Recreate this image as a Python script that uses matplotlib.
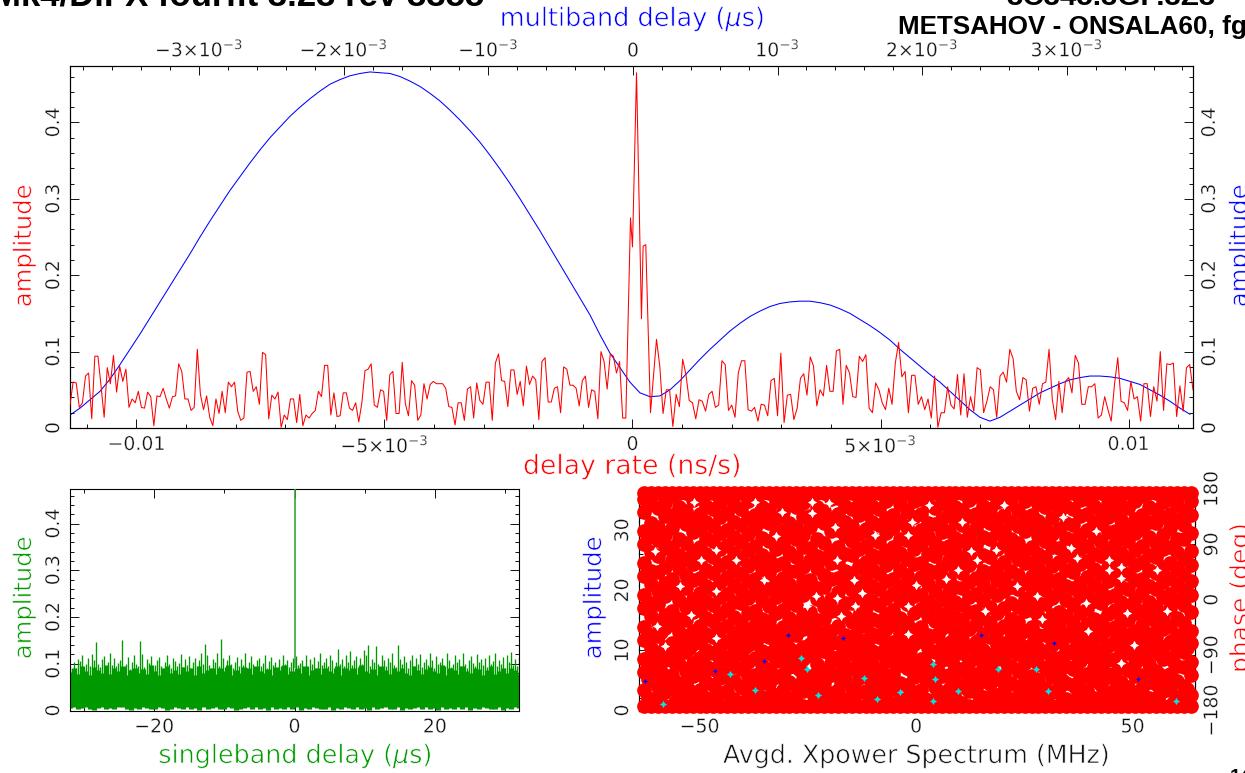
import numpy as np
import matplotlib
matplotlib.use('Agg')
import matplotlib.pyplot as plt
import matplotlib.patheffects as pe
from matplotlib.text import Text
from matplotlib.ticker import MultipleLocator

W, H = 1245, 773
plt.rcParams['font.family'] = ['DejaVu Sans']
plt.rcParams['mathtext.fontset'] = 'dejavusans'

# ---- delay rate fringe (amplitude, thousandths) left of the peak
rate_left = [30,60,59,27,33,68,72,12,94,94,55,14,79,58,95,47,81,61,77,27,38,33,48,27,26,47,41,3,42,41,52,38,26,41,42,84,74,38,38,23,27,103,44,24,42,14,3,38,19,48,20,60,54,60,22,10,13,73,74,48,54,31,99,96,12,43,38,47,1,17,11,38,38,7,44,3,17,13,19,23,48,41,82,82,17,46,15,16,46,46,26,23,33,8,33,75,77,84,30,27,50,48,10,70,74,19,19,86,32,16,62,56,10,17,
             58,38,57,61,58,58,58,52,28,27,4,33,33,10,51,54,13,59,36,31,60,60,10,85,97,62,61,28,76,76,44,61,29,81,57,68,63,11,87,92,34,34,52,54,20,80,77,56,56,52,29,62,68,27,50,48,12,100,87,51,97,94,72,87,13]
# the central peak
spike_rate = [-1.35e-4,-4e-5,0.0,8.1e-5,1.81e-4,2.14e-4,2.68e-4,3.63e-4,4.84e-4]
spike_amp = [0.013,0.275,0.237,0.465,0.143,0.238,0.24,0.02,0.116]
# right of the peak
rate_right = [81,19,50,50,2,44,28,90,70,36,33,12,37,35,22,44,48,27,30,88,83,23,30,14,72,88,88,24,22,27,9,31,30,16,62,65,16,98,7,43,44,11,26,65,71,43,93,81,29,50,42,82,48,48,101,103,31,82,72,41,40,94,87,
              96,26,20,59,50,33,24,52,31,85,112,67,74,20,69,69,31,41,24,38,13,68,1,20,20,54,30,25,70,17,71,14,41,22,79,76,20,35,54,50,14,68,73,60,103,91,48,37,66,63,22,52,54,31,58,60,103,37,11,61,20,61,66,46,95,85,31,31,54,54,58,13,17,41,24,9,57,92,35,33,23,61,38,41,9,58,58,15,54,35,100,23,84,83,85,15,55,22,79,83,50]
# ---- multiband delay curve (amplitude, thousandths)
mbd_amp = [17,26,37,48,64,83,103,123,144,165,186,207,228,250,271,291,311,329,347,364,380,394,408,420,431,441,450,456,461,464,466,465,464,460,454,447,438,428,416,403,389,374,357,339,320,300,279,258,236,214,192,170,148,122,98,79,60,46,41,42,50,62,76,90,103,115,127,137,146,153,159,163,165,166,166,164,161,156,150,142,134,125,115,103,92,81,70,60,48,36,24,14,9,14,22,30,38,46,52,58,63,66,68,68,67,65,61,57,50,43,35,26,18]
# ---- singleband delay (thousandths)
sbd_spikes = [95,88,104,92,110,106,118,90,100,112,96,120,108,147,100,94,110,116,90,104,122,98,112,95,102,108,150,92,99,115,88,104,118,100,96,148,120,94,110,102,116,92,98,108,114,96,90,104,118,100,92,112,106,96,102,120,94,110,98,116,90,104,112,96,108,124,100,142,118,98,92,110,104,122,96,154,112,94,108,118,100,90,104,114,96,110,98,122,92,104,116,100,94,108,112,96,102,118,90,106,114,98,104,92,110,96,118,100,108,94,104,112,116,98,102,108,94,118,96,110,100,114,92,106,122,98,104,112,96,118,108,92,104,132,100,110,96,118,104,128,98,108,116,94,112,100,130,118,140,96,110,104,138,100,92,118,108,96,112,104,122,98,94,140,110,100,116,104,92,108,118,96,112,100,120,94,104,110,98,124,108,92,116,100,104,112,96,122,108,94,100,118,104,110,96,124,100,92,108,116,102,96,120,104,110,98,112,94,118,100,106,122,96,108,100,114,92,118,104,126,98,110,96,112]
sbd_top = [82,90,78,96,84,76,94,86,80,98,78,90,84,96,76,86,92,80,88,78,98,84,76,90,96,80,86,78,94,84,90,76,96,80,86,92,78,90,84,98,76,86,80,94,90,78,96,84,80,88,76,94,86,98,78,84,90,80,96,76,86,92,78,90,84,80,96,76,90,86,92,78,98,84,80,88,76,96,86,78,92,84,90,80,76,96,86,78,88,94,84,80,98,76,90,86,78,96,84,80,92,88,76,86,96,78,84,90,80,92,86,78]
sbd_floor = [5,7,3,6,8,4,2,6,7,4,5,3,7,8,4,2,6,4,7,5,3,4,8,6,2,4,7,5,3,7,4,6,2,8,4,5,7,3,4,7,6,2,4,5,8,3,7,4,6,2,7,4,5,3,8,4,7,2,6,4,7,5,3,4,8,2,6,4,7,5,3,7,4,6,2,8,4,5,7,3,4,7,2,6,4,5,8,3,7,4,6,2,7,4,5,3,8,4,7,2,6,4,7,5,3,4,8,2,6,4,7,5]
sbd_peak_amp = 0.474
# ---- phase per spectral channel (deg)
phase_by_channel = [
[-173,-147,-118,-96,-66,-44,-14,8,38,60,90,112,143,164,173],
[-173,-161,-131,-109,-79,-57,-27,-5,25,47,77,103,125,155,173],
[-173,-163,-142,-111,-89,-59,-37,-7,15,45,71,97,119,149,173],
[-173,-150,-128,-98,-76,-46,-24,6,28,54,84,106,136,158,173],
[-173,-144,-122,-92,-70,-40,-18,12,34,64,86,116,138,168,173],
[-173,-157,-135,-105,-83,-53,-31,-1,21,51,73,99,129,151,173],
[-173,-168,-138,-115,-85,-63,-33,-11,19,41,67,93,123,145,173],
[-173,-154,-124,-102,-72,-50,-20,2,32,58,80,110,132,162,173],
[-173,-146,-121,-94,-69,-42,-17,11,35,62,85,115,139,165,173],
[-173,-160,-134,-107,-82,-56,-30,-2,22,48,74,101,127,152,173],
[-173,-165,-139,-113,-86,-60,-34,-8,18,44,70,96,120,147,173],
[-173,-151,-127,-99,-75,-47,-23,4,29,56,83,108,135,159,173],
[-173,-148,-119,-93,-67,-43,-15,9,37,61,89,113,141,167,173],
[-173,-162,-132,-108,-80,-54,-28,-4,24,49,76,102,126,154,173],
[-173,-167,-141,-112,-88,-62,-36,-6,16,42,68,94,122,148,173],
[-173,-153,-125,-101,-73,-49,-21,3,31,55,81,107,133,161,173],
[-173,-145,-123,-95,-71,-41,-19,13,33,63,87,117,137,166,173],
[-173,-158,-136,-106,-84,-52,-32,0,20,50,72,100,128,150,173],
[-173,-164,-137,-114,-87,-61,-35,-10,17,43,66,95,124,146,173],
[-173,-155,-126,-100,-74,-51,-22,5,27,57,82,109,131,160,173],
[-173,-147,-120,-91,-68,-45,-16,10,36,59,91,111,142,163,173],
[-173,-159,-133,-110,-78,-55,-29,-3,26,46,78,104,124,156,173],
[-173,-166,-140,-110,-90,-58,-38,-9,14,46,69,98,118,150,173],
[-173,-149,-129,-97,-77,-48,-25,7,30,53,85,105,134,157,173],
[-173,-143,-124,-90,-72,-39,-20,14,32,65,84,118,136,169,173],
[-173,-156,-137,-104,-81,-53,-33,1,19,52,71,98,130,150,173],
[-173,-169,-136,-116,-84,-64,-32,-12,20,40,68,92,125,144,173],
[-173,-152,-123,-103,-71,-50,-19,1,33,59,79,111,131,163,173],
[-173,-146,-122,-93,-70,-42,-18,12,35,61,86,114,140,165,173],
[-173,-161,-130,-108,-78,-58,-26,-6,24,47,75,104,126,153,173],
[-173,-162,-143,-112,-88,-60,-36,-5,16,44,72,96,120,148,173],
[-173,-150,-127,-99,-77,-45,-25,5,28,55,83,107,137,157,173],
[-173,-148,-118,-94,-66,-43,-14,10,38,62,88,115,141,166,173],
[-173,-157,-133,-105,-83,-56,-31,-2,22,50,73,101,127,152,173],
[-173,-165,-139,-114,-86,-61,-34,-8,17,42,70,94,122,147,173],
[-173,-153,-128,-100,-74,-47,-23,3,30,56,80,108,133,160,173],
[-173,-144,-121,-92,-69,-40,-16,11,34,63,85,116,138,168,173],
[-173,-160,-135,-106,-82,-54,-30,-1,23,48,76,99,128,155,173],
[-173,-167,-138,-111,-89,-62,-37,-7,18,41,67,97,119,145,173],
[-173,-151,-125,-102,-72,-49,-21,6,27,58,82,106,135,161,173],
[-173,-147,-119,-96,-67,-44,-15,8,37,60,90,113,139,164,173],
[-173,-163,-131,-107,-79,-57,-27,-4,25,49,74,103,125,154,173],
[-173,-164,-142,-113,-85,-59,-35,-10,15,45,71,93,123,149,173],
[-173,-154,-124,-98,-75,-46,-24,2,31,54,84,110,132,158,173],
[-173,-145,-122,-91,-71,-41,-17,13,33,64,87,112,142,167,173],
[-173,-159,-134,-109,-80,-52,-28,-3,21,51,77,100,129,151,173],
[-173,-168,-140,-115,-87,-63,-33,-9,19,43,66,95,121,146,173],
[-173,-149,-126,-101,-76,-48,-20,4,29,57,81,105,136,162,173],
[-173,-143,-120,-95,-68,-39,-18,9,36,65,89,117,140,169,173],
[-173,-158,-132,-104,-81,-55,-29,0,26,47,72,102,130,153,173],
[-173,-166,-137,-110,-90,-60,-38,-11,14,44,69,98,124,148,173],
[-173,-155,-129,-97,-73,-51,-22,7,32,53,83,109,131,159,173],
[-173,-146,-123,-90,-70,-42,-14,14,35,61,91,114,138,163,173],
[-173,-162,-136,-108,-84,-53,-32,-6,20,46,78,99,126,156,173],
[-173,-163,-141,-116,-88,-64,-36,-12,18,40,67,92,120,144,173],
[-173,-152,-128,-103,-77,-50,-19,2,28,59,79,111,134,160,173],
[-173,-148,-124,-93,-72,-45,-16,10,38,60,86,118,137,165,173],
[-173,-156,-130,-105,-78,-57,-26,-5,24,52,75,103,128,155,173],
[-173,-169,-143,-111,-85,-58,-34,-7,16,41,70,96,118,150,173],
[-173,-150,-125,-99,-74,-46,-25,3,31,55,85,107,133,157,173],
[-173,-144,-118,-94,-66,-43,-20,12,34,62,84,115,143,166,173],
[-173,-161,-135,-107,-83,-56,-27,-1,22,49,73,101,125,152,173],
[-173,-165,-139,-112,-86,-59,-37,-8,19,45,68,97,122,147,173],
[-173,-153,-127,-100,-76,-49,-21,6,27,58,82,106,136,162,173],
[-173,-147,-121,-92,-69,-40,-15,11,37,63,88,113,139,164,173],
[-173,-160,-131,-109,-79,-54,-31,-2,25,50,74,104,127,153,173],
[-173,-167,-138,-113,-89,-61,-35,-6,15,43,71,94,123,145,173],
[-173,-154,-126,-98,-75,-47,-23,5,30,54,80,110,135,158,173],
[-173,-145,-119,-96,-67,-44,-17,8,36,64,90,112,141,167,173],
[-173,-157,-134,-106,-82,-52,-30,-3,21,47,76,100,129,154,173],
[-173,-164,-142,-114,-87,-62,-33,-10,17,42,66,95,119,149,173],
[-173,-151,-124,-102,-73,-51,-22,1,32,56,81,108,132,161,173],
[-173,-143,-122,-90,-70,-41,-18,13,33,61,87,116,138,168,173],
[-173,-159,-133,-104,-80,-55,-28,-4,23,48,72,102,126,151,173],
[-173,-166,-137,-115,-84,-60,-36,-11,18,44,69,93,124,146,173],
[-173,-149,-129,-97,-77,-48,-24,4,29,53,83,105,134,159,173],
[-173,-146,-120,-95,-68,-42,-14,9,35,60,86,117,140,163,173],
[-173,-158,-132,-108,-81,-57,-29,0,26,51,77,99,128,156,173],
[-173,-168,-140,-110,-85,-63,-38,-9,14,40,67,98,121,144,173],
[-173,-155,-123,-101,-71,-50,-20,7,31,57,79,109,137,160,173],
]
# extra phase readings in the lower, more crowded part of the panel
low_phase_by_channel = [
[-160,-128,-95,-64],[-152,-118,-86,-52],[-166,-134,-102,-70],[-146,-112,-80,-58],
[-158,-124,-92,-60],[-150,-116,-84,-50],[-164,-132,-100,-66],[-144,-110,-78,-56],
[-162,-126,-94,-62],[-154,-120,-88,-54],[-168,-136,-104,-72],[-148,-114,-82,-48],
[-156,-122,-90,-59],[-151,-117,-85,-51],[-165,-133,-101,-68],[-145,-111,-79,-57],
[-159,-127,-93,-63],[-153,-119,-87,-53],[-167,-135,-103,-71],[-147,-113,-81,-49],
[-161,-125,-96,-61],[-149,-115,-83,-55],[-163,-131,-99,-67],[-143,-109,-77,-47],
[-157,-123,-91,-65],[-155,-121,-89,-52],[-169,-137,-105,-73],[-146,-112,-80,-50],
[-160,-129,-97,-60],[-152,-116,-86,-54],[-164,-130,-98,-69],[-144,-108,-76,-58],
[-158,-126,-92,-63],[-150,-118,-84,-51],[-166,-134,-102,-70],[-148,-114,-82,-56],
[-162,-124,-94,-62],[-154,-120,-88,-49],[-168,-132,-100,-66],[-145,-110,-78,-53],
]
# places where the phase dots leave paper showing
gap_freq = [-37.1,-24.1,-20.2,-51.2,-30.9,-24.1,-60.3,-49.7,-46.3,-41.5,-32.3,-54.5,-46.3,-35.2,-23.1,-18.3,-14.4,-12.5,-25.1,-17.3,-14,-52.1,-59.8,-46.3,-57.9,-18.8,-9.6,-18.3,-1.9,-0.9,2.9,10.7,20.3,33.9,41.6,44.5,47.4,55.6,44.5,37.2,39.2,58,48.8,28,16,14,9.7,6.8,-1.9,0,23.2,47.4,12.6,18.4,35.8,50.3,39.7,29,-1.9,47.4]
gap_phase = [159.5,159.5,156.8,159.5,143.3,140.6,78.5,65,81,65,102.8,21.8,13.7,32.6,5.6,2.9,32.6,11,-10.6,-26.8,-10.6,-24,-43,-61.9,-75.4,119,105.5,65,105.5,127,154,127,154,135,111,65,54,49,49,68,-5,-19,-21,5.6,-19,65,49,33,-10.6,24.5,22,35,78.5,81,84,-73,-51,-32,-56,-102]
# amplitude points showing through the dots
cyan_freq = [-12,-3.8,3.9,9.7,3.9,30.5,-58.4,-25.1,-22.6,-37.1,-43,18.9,4.4,-26.5,-9.1,27.6,60]
cyan_phase = [-126.7,-150,-105,-148,-164.5,-148,-170,-113,-154,-146,-121,-113,-129,-94,-162,-113,-164]
blue_freq = [-29.7,-16.9,-35.2,-46.5,-62.7,51.2,31.9,15]
blue_phase = [-56.5,-62,-100,-116,-132,-129.4,-70,-58]

rate_ticks = [-0.01,-5e-3,0,5e-3,0.01]
rate_labels = ['\N{MINUS SIGN}0.01', r'$-5{\times}10^{-3}$', '0', r'$5{\times}10^{-3}$', '0.01']
mbd_ticks = [-3e-3,-2e-3,-1e-3,0,1e-3,2e-3,3e-3]
mbd_labels = [r'$-3{\times}10^{-3}$', r'$-2{\times}10^{-3}$', r'$-10^{-3}$', '0', r'$10^{-3}$', r'$2{\times}10^{-3}$', r'$3{\times}10^{-3}$']

RED, BLUE, GREEN = '#ff0000', '#0000ff', '#009a00'
TCK = 13.6

fig = plt.figure(figsize=(W/100, H/100), dpi=100)

def box(l, t, r, b):
    return fig.add_axes([l/W, 1-b/H, (r-l)/W, (b-t)/H])

def style(ax):
    for s in ax.spines.values():
        s.set_linewidth(0.8)
    ax.tick_params(which='major', length=6.5, width=0.7, direction='in', labelsize=TCK, pad=5, colors='#111111')
    ax.tick_params(which='minor', length=3.2, width=0.7, direction='in', colors='#111111')

def rot(ax):
    for t in ax.get_yticklabels():
        t.set_rotation(90)
        t.set_va('center')

def label(x, y, s, c, rotation=0, size=17.2):
    fig.text(x/W, 1-y/H, s, color=c, fontsize=size, rotation=rotation, ha='center', va='center',
             path_effects=[pe.Stroke(linewidth=0.5, foreground='white')])

# ---- top panel
ax = box(70, 66, 1193, 428)
style(ax)
RMIN, RMAX = -0.01134, 0.0113
ax.set_xlim(RMIN, RMAX)
ax.set_ylim(0, 0.4738)
x_left = np.linspace(RMIN, spike_rate[0], len(rate_left), endpoint=False)
x_right = np.linspace(5.5e-4, RMAX, len(rate_right))
xs = np.concatenate([x_left, spike_rate, x_right])
ys = np.concatenate([np.array(rate_left)/1000, spike_amp, np.array(rate_right)/1000])
ax.plot(xs, ys, color=RED, lw=0.75, zorder=3)
ax.set_xticks(rate_ticks, rate_labels)
ax.xaxis.set_minor_locator(MultipleLocator(1e-3))
ax.set_yticks([0,0.1,0.2,0.3,0.4], ['0','0.1','0.2','0.3','0.4'])
ax.yaxis.set_minor_locator(MultipleLocator(0.02))
ax.tick_params(axis='y', which='both', left=True, right=True, labelleft=True, labelright=True)
ax.tick_params(axis='x', which='both', bottom=True, top=False)
rot(ax)

axt = ax.twiny()
style(axt)
axt.set_xlim(-3.893e-3, 3.873e-3)
axt.plot(np.linspace(-3.893e-3, 3.852e-3, len(mbd_amp)), np.array(mbd_amp)/1000, color=BLUE, lw=0.75, zorder=2)
axt.set_xticks(mbd_ticks, mbd_labels)
axt.xaxis.set_minor_locator(MultipleLocator(2e-4))
axt.tick_params(axis='x', which='major', pad=4)
ax.set_zorder(axt.get_zorder()+1)
ax.patch.set_visible(False)

# ---- bottom left
a2 = box(70, 489, 519, 710.5)
style(a2)
a2.set_xlim(-32, 32)
a2.set_ylim(0, 0.474)
core_x = np.linspace(-32, 32, len(sbd_top))
a2.vlines(core_x, np.array(sbd_floor)/1000, np.array(sbd_top)/1000, color=GREEN, lw=3.7, zorder=2)
spike_x = np.linspace(-32, 32, len(sbd_spikes))
a2.vlines(spike_x, 0.05, np.array(sbd_spikes)/1000, color=GREEN, lw=0.95, zorder=2)
a2.vlines([0], 0.09, sbd_peak_amp, color='#33a833', lw=1.2, zorder=3)
a2.set_xticks([-20,0,20], ['\N{MINUS SIGN}20','0','20'])
a2.xaxis.set_minor_locator(MultipleLocator(10))
a2.set_yticks([0,0.1,0.2,0.3,0.4], ['0','0.1','0.2','0.3','0.4'])
a2.yaxis.set_minor_locator(MultipleLocator(0.02))
a2.tick_params(axis='y', which='both', left=True, right=True)
a2.tick_params(axis='x', which='both', bottom=True, top=True)
rot(a2)

# ---- bottom right
a3 = box(639, 489, 1195.4, 710.5)
style(a3)
a3.set_xlim(-64, 64.5)
a3.set_ylim(0, 36.9)
a3.set_xticks([-50,0,50], ['\N{MINUS SIGN}50','0','50'])
a3.set_yticks([0,10,20,30], ['0','10','20','30'])
a3.yaxis.set_minor_locator(MultipleLocator(2))
a3.xaxis.set_minor_locator(MultipleLocator(10))
a3.tick_params(axis='x', which='both', top=True, bottom=True)
rot(a3)
a4 = a3.twinx()
style(a4)
a4.set_ylim(-180, 180)
a4.set_yticks([-180,-90,0,90,180], ['\N{MINUS SIGN}180','\N{MINUS SIGN}90','0','90','180'])
rot(a4)
channels = np.linspace(-62.8, 63.4, len(phase_by_channel))
for f, ph in zip(channels, phase_by_channel):
    a4.scatter([f]*len(ph), ph, s=112, color=RED, linewidths=0, zorder=3, clip_on=False)
low_channels = np.linspace(-62, 62.5, len(low_phase_by_channel))
for f, ph in zip(low_channels, low_phase_by_channel):
    a4.scatter([f]*len(ph), ph, s=112, color=RED, linewidths=0, zorder=3)
star = (4, 1, 0)
a4.scatter(gap_freq, gap_phase, s=46, color='white', linewidths=0, marker=star, zorder=4)
a4.scatter(cyan_freq, cyan_phase, s=28, color='#00e5e5', linewidths=0, marker=star, zorder=4)
a4.scatter(blue_freq, blue_phase, s=14, color=BLUE, linewidths=0, marker=star, zorder=4)

# thin the tick labels slightly towards the hairline look of the reference
for t in fig.findobj(Text):
    t.set_path_effects([pe.Stroke(linewidth=0.25, foreground='white')])

# ---- labels and titles
label(632, 19, r'multiband delay ($\mu$s)', BLUE, size=18.4)
label(632, 467, 'delay rate (ns/s)', RED, size=19.2)
label(24, 246, 'amplitude', RED, 90, size=17.5)
label(1240, 246, 'amplitude', BLUE, 90, size=17.5)
label(24, 598, 'amplitude', GREEN, 90, size=17.5)
label(295, 756, r'singleband delay ($\mu$s)', GREEN, size=18.3)
label(594, 598, 'amplitude', BLUE, 90, size=17.5)
label(1241, 598, 'phase (deg)', RED, 90, size=18)
label(916, 756, 'Avgd. Xpower Spectrum (MHz)', '#111111', size=18.2)

bold = dict(fontfamily='Liberation Sans', fontweight='bold', ha='left', va='baseline')
fig.text(-8/W, 1-5/H, 'Mk4/DiFX fourfit 3.23 rev 3355', fontsize=25, **bold)
fig.text(1006/W, 1-5/H, '3C345.3GP.3Z3', fontsize=21.2, **bold)
fig.text(898/W, 1-34/H, 'METSAHOV - ONSALA60, fgroup X', fontsize=18.7, **bold)
fig.text(1230/W, 1-782/H, '14', fontsize=14, **bold)

fig.savefig('out.png', dpi=100)
